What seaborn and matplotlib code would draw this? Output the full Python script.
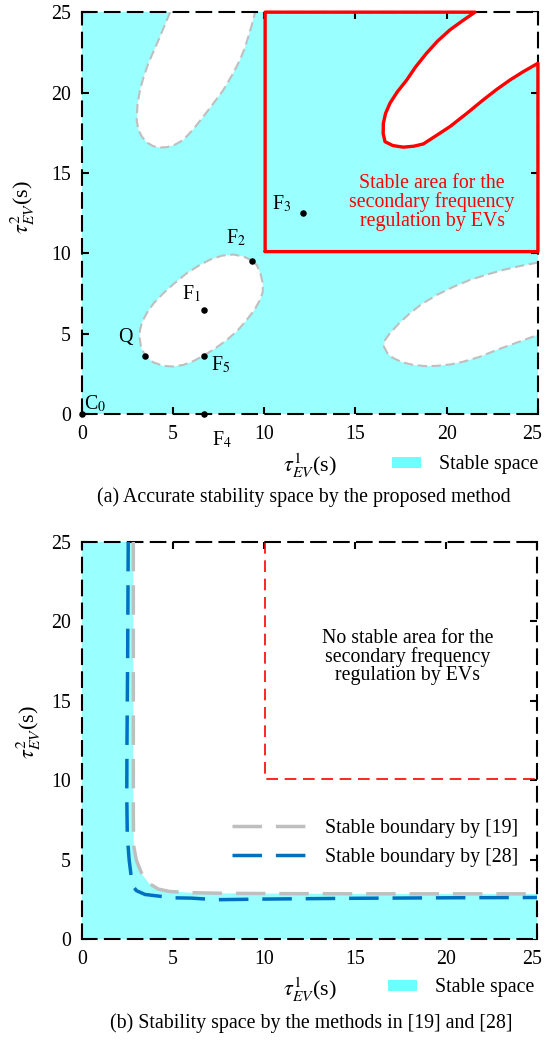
import numpy as np
import pandas as pd
import matplotlib
matplotlib.use("Agg")
import matplotlib.pyplot as plt
import matplotlib.transforms as mtrans
import seaborn as sns
from matplotlib.patches import Patch
from matplotlib.lines import Line2D

# ---------------- data : panel (a) ----------------
ticks = [0, 5, 10, 15, 20, 25]
tick_labels = ["0", "5", "10", "15", "20", "25"]

# unstable ellipse around F1 (closed)
ellipse_x = [9.35, 8.85, 8.30, 7.70, 7.03, 6.40, 5.75, 5.10, 4.47, 3.95, 3.56, 3.30, 3.19, 3.17,
             3.25, 3.47, 3.90, 4.47, 5.00, 5.57, 6.10, 6.66, 7.30, 7.95, 8.55, 9.04, 9.45, 9.77,
             9.92, 9.92, 9.80, 9.60, 9.35]
ellipse_y = [9.54, 9.80, 9.92, 9.85, 9.60, 9.22, 8.75, 8.15, 7.51, 6.90, 6.27, 5.70, 5.20, 4.75,
             4.15, 3.63, 3.22, 2.99, 2.95, 3.05, 3.28, 3.61, 4.07, 4.60, 5.20, 5.85, 6.45, 7.09,
             7.60, 8.13, 8.70, 9.25, 9.54]

# unstable lobe touching the top edge (upper-left)
lobe_tl_x = [4.84, 4.55, 4.29, 3.95, 3.65, 3.40, 3.19, 3.05, 3.01, 3.10, 3.29, 3.58, 3.92, 4.30,
             4.66, 5.10, 5.57, 6.10, 6.66, 7.20, 7.76, 8.25, 8.67, 8.93, 9.13, 9.32, 9.50]
lobe_tl_y = [25.0, 24.2, 23.48, 22.6, 21.82, 21.0, 20.16, 19.2, 18.29, 17.7, 17.26, 16.88, 16.66,
             16.58, 16.6, 16.75, 17.05, 17.7, 18.5, 19.3, 20.16, 21.1, 22.03, 22.75, 23.48, 24.2, 25.0]

# unstable lobe touching the right edge (lower-right)
lobe_br_x = [25.0, 24.0, 23.1, 22.2, 21.28, 20.35, 19.45, 18.65, 17.99, 17.40, 16.89, 16.62, 16.56,
             16.75, 17.07, 17.60, 18.17, 18.80, 19.45, 20.20, 20.91, 21.80, 22.74, 23.80, 25.0]
lobe_br_y = [9.42, 9.20, 8.96, 8.67, 8.34, 7.90, 7.40, 6.85, 6.27, 5.65, 5.02, 4.60, 4.19,
             3.78, 3.47, 3.20, 3.05, 2.98, 2.99, 3.08, 3.25, 3.55, 3.98, 4.42, 4.92]

# unstable lobe in the upper-right corner (bounded by the red curve)
lobe_tr_x = [21.55, 20.85, 20.18, 19.5, 18.9, 18.3, 17.81, 17.3, 16.89, 16.65, 16.53, 16.52, 16.62,
             17.05, 17.62, 18.2, 18.72, 19.4, 20.18, 21.1, 22.0, 22.75, 23.47, 24.2, 25.0]
lobe_tr_y = [25.0, 24.45, 23.9, 23.2, 22.45, 21.6, 20.78, 20.05, 19.33, 18.7, 18.09, 17.45, 16.94,
             16.7, 16.6, 16.66, 16.8, 17.3, 17.88, 18.7, 19.54, 20.2, 20.78, 21.3, 21.82]

# red "stable area" box limits
red_left = 10.05
red_bottom = 10.1
axis_max = 25.0

# operating points
pt_names = ["C$_0$", "F$_4$", "Q", "F$_5$", "F$_1$", "F$_2$", "F$_3$"]
pt_x = [0.0, 6.7, 3.47, 6.7, 6.7, 9.35, 12.1]
pt_y = [0.0, 0.0, 3.63, 3.61, 6.47, 9.54, 12.5]

# ---------------- data : panel (b) ----------------
b19_x = [2.83, 2.83, 2.83, 2.84, 2.86, 3.00, 3.30, 3.70, 4.20, 4.80, 6.00, 8.00, 12.0, 18.0, 25.0]
b19_y = [25.0, 15.0, 8.0, 6.5, 5.8, 4.95, 4.10, 3.50, 3.15, 3.00, 2.92, 2.88, 2.86, 2.85, 2.85]

b28_x = [2.55, 2.52, 2.48, 2.47, 2.50, 2.60, 2.77, 3.00, 3.47, 5.00, 6.00, 7.40, 10.0, 15.0, 20.0, 25.0]
b28_y = [25.0, 18.0, 12.0, 9.0, 6.5, 5.0, 3.40, 3.05, 2.81, 2.60, 2.58, 2.48, 2.52, 2.57, 2.60, 2.62]

legend_b = ["Stable boundary by [19]", "Stable boundary by [28]"]

# ---------------- style ----------------
cyan = "#99FFFF"
cyan_leg = "#6CFFFF"
grey = "#BFBFBF"
blue = "#0070C0"
red = "#FF0000"
FS = 14.3

sns.set_theme(style="white")
plt.rcParams["font.family"] = ["Liberation Serif", "DejaVu Serif"]
plt.rcParams["mathtext.fontset"] = "stix"
plt.rcParams["font.size"] = FS
plt.rcParams["text.color"] = "black"

fig = plt.figure(figsize=(5.45, 10.4), dpi=100)
ax1 = fig.add_axes([0.15, 0.602, 0.837, 0.3863])
ax2 = fig.add_axes([0.15, 0.097, 0.836, 0.382])


def style_axes(ax):
    ax.set_xlim(0, axis_max)
    ax.set_ylim(0, axis_max)
    ax.set_xticks(ticks)
    ax.set_yticks(ticks)
    ax.set_xticklabels(tick_labels)
    ax.set_yticklabels(tick_labels)
    ax.tick_params(direction="in", length=5, width=1.5, color="black",
                   bottom=True, left=True, top=True, right=True,
                   labelsize=FS, pad=8, labelcolor="black")
    for s in ax.spines.values():
        s.set_visible(True)
        s.set_color("black")
        s.set_linewidth(1.5)
        s.set_linestyle((0, (7, 4)))
        s.set_zorder(2.5)
    ax.set_xlabel(r"$\tau^{1}_{EV}$(s)", fontsize=16, color="black")
    ax.set_ylabel(r"$\tau^{2}_{EV}$(s)", fontsize=16, color="black")
    ax.xaxis.set_label_coords(0.5, -0.128)
    ax.xaxis.label.set_verticalalignment("center")
    ax.yaxis.label.set_verticalalignment("center")
    # keep the last x tick label inside the figure
    last = ax.get_xticklabels()[-1]
    last.set_transform(last.get_transform() +
                       mtrans.ScaledTranslation(-4 / 72, 0, fig.dpi_scale_trans))


# ---------------- panel (a) ----------------
style_axes(ax1)
ax1.yaxis.set_label_coords(-0.128, 0.515)
ax1.set_facecolor(cyan)

ax1.fill(ellipse_x, ellipse_y, color="white", zorder=1, lw=0)
ax1.fill(lobe_tl_x, lobe_tl_y, color="white", zorder=1, lw=0)
ax1.fill(lobe_br_x, lobe_br_y, color="white", zorder=1, lw=0)
ax1.fill(lobe_tr_x + [axis_max], lobe_tr_y + [axis_max], color="white", zorder=1, lw=0)

grey_ls = (0, (4.5, 2.2))
for xs, ys in [(ellipse_x, ellipse_y), (lobe_tl_x, lobe_tl_y), (lobe_br_x, lobe_br_y)]:
    sns.lineplot(x=xs, y=ys, sort=False, estimator=None, ax=ax1, color=grey,
                 linewidth=1.5, linestyle=grey_ls, zorder=2)

red_x = [red_left, red_left] + lobe_tr_x + [axis_max, red_left]
red_y = [red_bottom, axis_max] + lobe_tr_y + [red_bottom, red_bottom]
sns.lineplot(x=red_x, y=red_y, sort=False, estimator=None, ax=ax1, color=red,
             linewidth=2.4, zorder=3, clip_on=False)

sns.scatterplot(x=pt_x, y=pt_y, ax=ax1, color="black", s=22, zorder=5,
                edgecolor="black", linewidth=0, clip_on=False, legend=False)

label_pos = {"C$_0$": (0.73, 0.59), "F$_4$": (7.66, -1.59), "Q": (2.41, 4.76),
             "F$_5$": (7.63, 3.02), "F$_1$": (6.02, 7.44), "F$_2$": (8.45, 10.98),
             "F$_3$": (10.95, 13.04)}
for name in pt_names:
    lx, ly = label_pos[name]
    ax1.text(lx, ly, name, ha="center", va="center", fontsize=FS, color="black",
             clip_on=False, zorder=6)

ax1.text(19.2, 13.16, "Stable area for the\nsecondary frequency\nregulation by EVs",
         color=red, ha="center", va="center", fontsize=FS, linespacing=0.95, zorder=6)

ax1.legend(handles=[Patch(facecolor=cyan_leg, edgecolor="none", label="Stable space")],
           loc="center left", bbox_to_anchor=(0.68, -0.127), frameon=False,
           handlelength=1.45, handleheight=0.5, handletextpad=0.9,
           borderpad=0, borderaxespad=0, fontsize=FS)

fig.text(0.557, 0.522, "(a) Accurate stability space by the proposed method",
         ha="center", va="center", fontsize=FS)

# ---------------- panel (b) ----------------
style_axes(ax2)
ax2.yaxis.set_label_coords(-0.116, 0.52)
ax2.set_facecolor("white")

fill_x = [0.0, 0.0] + b19_x + [axis_max]
fill_y = [0.0, axis_max] + b19_y + [0.0]
ax2.fill(fill_x, fill_y, color=cyan, lw=0, zorder=1)

# red dashed box (left + bottom edges; top/right lie on the axes frame)
sns.lineplot(x=[red_left, red_left, axis_max], y=[axis_max, red_bottom, red_bottom],
             sort=False, estimator=None, ax=ax2, color=red, linewidth=1.2,
             linestyle=(0, (7, 4)), zorder=2)

bnd_ls = (0, (8.5, 4))
sns.lineplot(x=b19_x, y=b19_y, sort=False, estimator=None, ax=ax2, color=grey,
             linewidth=2.5, linestyle=bnd_ls, zorder=3)
sns.lineplot(x=b28_x, y=b28_y, sort=False, estimator=None, ax=ax2, color=blue,
             linewidth=2.5, linestyle=bnd_ls, zorder=3)

ax2.text(17.9, 17.77, "No stable area for the\nsecondary frequency\nregulation by EVs",
         color="black", ha="center", va="center", fontsize=FS, linespacing=0.95, zorder=6)

h_lines = [Line2D([], [], color=grey, lw=2.5, linestyle=bnd_ls, label=legend_b[0]),
           Line2D([], [], color=blue, lw=2.5, linestyle=bnd_ls, label=legend_b[1])]
leg_l = ax2.legend(handles=h_lines, loc="center left", bbox_to_anchor=(0.33, 0.242),
                   frameon=False, handlelength=3.8, handletextpad=0.9, labelspacing=0.5,
                   borderpad=0, borderaxespad=0, fontsize=FS)
ax2.add_artist(leg_l)
ax2.legend(handles=[Patch(facecolor=cyan_leg, edgecolor="none", label="Stable space")],
           loc="center left", bbox_to_anchor=(0.673, -0.123), frameon=False,
           handlelength=1.45, handleheight=0.5, handletextpad=0.9,
           borderpad=0, borderaxespad=0, fontsize=FS)

fig.text(0.572, 0.0163, "(b) Stability space by the methods in [19] and [28]",
         ha="center", va="center", fontsize=FS)

fig.savefig("out.png", dpi=100)
